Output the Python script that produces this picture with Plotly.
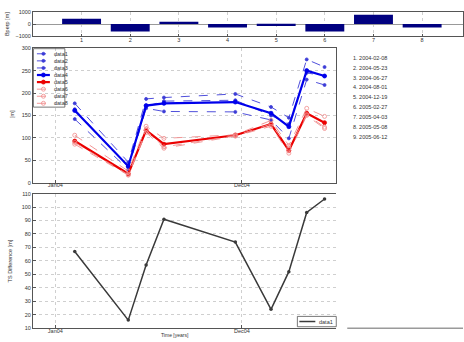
import plotly.graph_objects as go

# ---------------- data ----------------
bar_cats = [1, 2, 3, 4, 5, 6, 7, 8]
bperp = [430, -600, 190, -270, -160, -600, 770, -270]

dates = ["2004-02-08", "2004-05-23", "2004-06-27", "2004-08-01", "2004-12-19",
         "2005-02-27", "2005-04-03", "2005-05-08", "2005-06-12"]

data1 = [177, 46, 187, 190, 198, 169, 145, 275, 258]
data2 = [164, 35, 170, 182, 184, 150, 131, 245, 238]
data3 = [142, 30, 166, 159, 158, 140, 99, 230, 218]
data4 = [161, 37, 172, 177, 180, 155, 125, 250, 238]
data5 = [93, 20, 117, 86, 106, 131, 72, 155, 134]
data6 = [106, 26, 126, 99, 107, 139, 83, 166, 148]
data7 = [90, 18, 117, 80, 105, 131, 77, 152, 124]
data8 = [86, 17, 112, 77, 104, 126, 66, 150, 121]

ts_diff = [67, 16, 57, 91, 74, 24, 52, 96, 106]

date_list = ["1. 2004-02-08", "2. 2004-05-23", "3. 2004-06-27", "4. 2004-08-01",
             "5. 2004-12-19", "6. 2005-02-27", "7. 2005-04-03", "8. 2005-05-08",
             "9. 2005-06-12"]

series_names = ["data1", "data2", "data3", "data4", "data5", "data6", "data7", "data8"]
series_vals = [data1, data2, data3, data4, data5, data6, data7, data8]

# ---------------- styles ----------------
BLUE_T = "rgb(60,60,215)"
BLUE = "rgb(0,0,235)"
RED = "rgb(235,0,0)"
RED_L = "rgb(240,140,140)"
styles = [
    dict(color=BLUE_T, width=0.9, dash="dash", sym="circle", msize=3),
    dict(color=BLUE_T, width=0.9, dash="dash", sym="circle", msize=3),
    dict(color=BLUE_T, width=0.9, dash="dash", sym="circle", msize=3),
    dict(color=BLUE, width=2.2, dash="solid", sym="circle", msize=4),
    dict(color=RED, width=2.2, dash="solid", sym="circle", msize=4),
    dict(color=RED_L, width=0.9, dash="dash", sym="circle-open", msize=4),
    dict(color=RED_L, width=0.9, dash="dash", sym="circle-open", msize=4),
    dict(color=RED_L, width=0.9, dash="dash", sym="circle-open", msize=4),
]

W, H = 464, 342
FONT = "Liberation Sans"
TXT = "#333333"

def px_x(p):
    return p / W

def px_y(p):
    return 1 - p / H

fig = go.Figure()

# top bar chart
fig.add_trace(go.Bar(x=bar_cats, y=bperp, width=0.8, marker=dict(color="#000080", line=dict(width=0)),
                     xaxis="x", yaxis="y", showlegend=False))

# middle chart
for name, vals, st in zip(series_names, series_vals, styles):
    fig.add_trace(go.Scatter(x=dates, y=vals, mode="lines+markers", name=name,
                             line=dict(color=st["color"], width=st["width"], dash=st["dash"]),
                             marker=dict(symbol=st["sym"], size=st["msize"], color=st["color"],
                                         line=dict(color=st["color"], width=0.8)),
                             xaxis="x2", yaxis="y2", showlegend=False))

# bottom chart
fig.add_trace(go.Scatter(x=dates, y=ts_diff, mode="lines+markers", name="data1",
                         line=dict(color="#3a3a3a", width=1.5),
                         marker=dict(symbol="circle", size=3.5, color="#3a3a3a"),
                         xaxis="x3", yaxis="y3", showlegend=False))

# ---------------- manual legends (pixel overlay axis) ----------------
shapes = []
leg_x0, leg_x1, leg_mx = 37, 50, 43.5
leg_y = [51.7, 58.9, 66.1, 73.3, 80.5, 87.7, 94.9, 102.1]
annotations = []
for name, st, y in zip(series_names, styles, leg_y):
    shapes.append(dict(type="line", xref="x4", yref="y4", x0=leg_x0, x1=leg_x1, y0=y, y1=y,
                       line=dict(color=st["color"], width=st["width"], dash="dash" if st["dash"] == "dash" else "solid")))
    fig.add_trace(go.Scatter(x=[leg_mx], y=[y], mode="markers",
                             marker=dict(symbol=st["sym"], size=st["msize"], color=st["color"],
                                         line=dict(color=st["color"], width=0.8)),
                             xaxis="x4", yaxis="y4", showlegend=False, hoverinfo="skip"))
    annotations.append(dict(x=52, y=y, xref="x4", yref="y4", text=name, showarrow=False,
                            xanchor="left", yanchor="middle", font=dict(size=5.5, color=TXT, family=FONT)))
# legend box middle
shapes.append(dict(type="rect", xref="x4", yref="y4", x0=33.5, x1=65, y0=46.5, y1=106,
                   line=dict(color="#555555", width=0.8), fillcolor="rgba(255,255,255,0)"))

# bottom legend
shapes.append(dict(type="rect", xref="x4", yref="y4", x0=298, x1=337, y0=319, y1=329.5,
                   line=dict(color="#555555", width=0.8), fillcolor="white"))
shapes.append(dict(type="line", xref="x4", yref="y4", x0=300, x1=316, y0=324.2, y1=324.2,
                   line=dict(color="#3a3a3a", width=1.5)))
fig.add_trace(go.Scatter(x=[308], y=[324.2], mode="markers",
                         marker=dict(symbol="circle", size=3.5, color="#3a3a3a"),
                         xaxis="x4", yaxis="y4", showlegend=False, hoverinfo="skip"))
annotations.append(dict(x=318, y=324.2, xref="x4", yref="y4", text="data1", showarrow=False,
                        xanchor="left", yanchor="middle", font=dict(size=5.5, color=TXT, family=FONT)))

# stray axis line bottom right
shapes.append(dict(type="line", xref="x4", yref="y4", x0=348, x1=464, y0=331, y1=331,
                   line=dict(color="#9a9a9a", width=1.5)))

# date list
for i, t in enumerate(date_list):
    annotations.append(dict(x=352, y=55.7 + i * 10.1, xref="x4", yref="y4", text=t, showarrow=False,
                            xanchor="left", yanchor="middle", font=dict(size=5.5, color=TXT, family=FONT)))

# axis titles
annotations.append(dict(x=7, y=21.5, xref="x4", yref="y4", text="Bperp [m]", showarrow=False,
                        textangle=-90, font=dict(size=5.5, color=TXT, family=FONT)))
annotations.append(dict(x=12, y=113, xref="x4", yref="y4", text="[m]", showarrow=False,
                        textangle=-90, font=dict(size=5.5, color=TXT, family=FONT)))
annotations.append(dict(x=10, y=262, xref="x4", yref="y4", text="TS Difference [m]", showarrow=False,
                        textangle=-90, font=dict(size=5.5, color=TXT, family=FONT)))
annotations.append(dict(x=175, y=337.5, xref="x4", yref="y4", text="Time [years]", showarrow=False,
                        yanchor="middle", font=dict(size=5, color=TXT, family=FONT)))

tickfont = dict(size=5.5, color=TXT, family=FONT)
grid = dict(showgrid=True, gridcolor="#cfcfcf", griddash="dot", gridwidth=0.8)
box = dict(showline=True, linecolor="#555555", linewidth=0.8, mirror=True,
           ticks="inside", ticklen=3, tickcolor="#555555", tickfont=tickfont, zeroline=False)

date_range = ["2003-11-18", "2005-07-05"]
date_ticks = ["2004-01-01", "2005-01-01"]
date_text = ["Jan04", "Dec04"]

fig.update_layout(
    width=W, height=H,
    margin=dict(l=0, r=0, t=0, b=0),
    paper_bgcolor="white", plot_bgcolor="rgba(0,0,0,0)",
    showlegend=False,
    shapes=shapes, annotations=annotations,
    xaxis=dict(domain=[px_x(33), 1.0], range=[0, 8.84], tickvals=bar_cats, anchor="y",
               ticklabelstandoff=-2, **grid, **box),
    yaxis=dict(domain=[px_y(34), px_y(9)], range=[-1000, 1000], tickvals=[-1000, 0, 1000],
               anchor="x", showgrid=False, **{k: v for k, v in box.items() if k != "zeroline"},
               zeroline=True, zerolinecolor="#999999", zerolinewidth=1),
    xaxis2=dict(domain=[px_x(33), px_x(337)], type="date", range=date_range, tickvals=date_ticks,
                ticktext=date_text, anchor="y2", ticklabelstandoff=-3, **grid, **box),
    yaxis2=dict(domain=[px_y(183), px_y(46)], range=[0, 300], dtick=50, anchor="x2", **grid, **box),
    xaxis3=dict(domain=[px_x(33), px_x(337)], type="date", range=date_range, tickvals=date_ticks,
                ticktext=date_text, anchor="y3", ticklabelstandoff=-3, **grid, **box),
    yaxis3=dict(domain=[px_y(331), px_y(194)], range=[10, 110], dtick=10, anchor="x3", **grid,
                **{k: v for k, v in box.items() if k not in ("mirror", "linecolor")},
                linecolor="#555555", mirror=False),
    xaxis4=dict(domain=[0, 1], range=[0, W], visible=False, anchor="y4", fixedrange=True),
    yaxis4=dict(domain=[0, 1], range=[H, 0], visible=False, anchor="x4", fixedrange=True),
)

fig.write_html("out.html", config={"displayModeBar": False},
               post_script="document.body.style.margin='0';document.body.style.overflow='hidden';")
